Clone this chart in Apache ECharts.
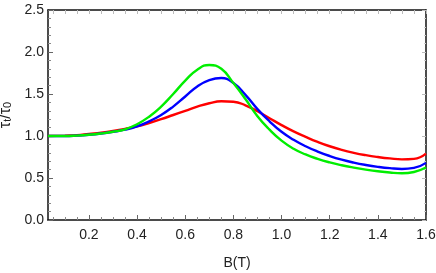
<!DOCTYPE html>
<html>
<head>
<meta charset="utf-8">
<script src="https://cdn.jsdelivr.net/npm/echarts@6/dist/echarts.min.js"></script>
<style>html,body{margin:0;padding:0;background:#fff}#c{width:436px;height:273px}</style>
</head>
<body>
<div id="c"></div>
<script>
const B = [0.03,0.1,0.15,0.2,0.25,0.3,0.35,0.4,0.45,0.5,0.55,0.6,0.65,0.7,0.75,0.8,0.85,0.9,0.95,1.0,1.05,1.1,1.15,1.2,1.25,1.3,1.35,1.4,1.45,1.5,1.55,1.6];
const redVals = [1.00,1.005,1.01,1.025,1.04,1.06,1.085,1.115,1.155,1.20,1.25,1.30,1.35,1.39,1.413,1.408,1.365,1.295,1.212,1.13,1.055,0.99,0.93,0.878,0.835,0.80,0.772,0.75,0.733,0.722,0.728,0.79];
const blueVals = [1.00,1.00,1.005,1.015,1.03,1.05,1.075,1.115,1.175,1.25,1.35,1.47,1.59,1.665,1.69,1.63,1.49,1.32,1.175,1.05,0.955,0.878,0.815,0.762,0.718,0.683,0.655,0.633,0.617,0.608,0.62,0.68];
const greenVals = [1.00,1.00,1.005,1.015,1.03,1.05,1.08,1.14,1.23,1.35,1.50,1.66,1.79,1.845,1.80,1.63,1.44,1.235,1.075,0.945,0.848,0.78,0.728,0.686,0.652,0.624,0.60,0.58,0.565,0.557,0.572,0.625];
const xMajor = [0.2,0.4,0.6,0.8,1.0,1.2,1.4,1.6];
const xMinor = [0.05,0.1,0.15,0.25,0.3,0.35,0.45,0.5,0.55,0.65,0.7,0.75,0.85,0.9,0.95,1.05,1.1,1.15,1.25,1.3,1.35,1.45,1.5,1.55];
const yTicks = [0,0.5,1.0,1.5,2.0,2.5];

const zip = (xs, ys) => xs.map((x,i)=>[x, ys[i]]);
const X0 = 0.03, X1 = 1.6;
const txt = '#222';
const chart = echarts.init(document.getElementById('c'), null, {renderer:'canvas'});
const baseX = {type:'value', min:X0, max:X1, splitLine:{show:false}};
chart.setOption({
  animation:false,
  grid:{left:48, right:10, top:10, bottom:53, containLabel:false, outerBoundsMode:'none'},
  xAxis:[
    Object.assign({}, baseX, {position:'bottom',
      name:'B(T)', nameLocation:'middle', nameGap:36,
      nameTextStyle:{fontFamily:'Liberation Sans', fontSize:14, color:txt},
      axisLine:{onZero:false, lineStyle:{color:'#111', width:1.5}},
      axisTick:{inside:true, length:5, customValues:xMajor, lineStyle:{color:'#666'}},
      axisLabel:{customValues:xMajor, margin:8, fontFamily:'Liberation Sans', fontSize:14, color:txt,
        formatter:v=>v.toFixed(1)}}),
    Object.assign({}, baseX, {position:'bottom',
      axisLine:{show:false},
      axisTick:{inside:true, length:3, customValues:xMinor, lineStyle:{color:'#888'}},
      axisLabel:{show:false}}),
    Object.assign({}, baseX, {position:'top',
      axisLine:{onZero:false, lineStyle:{color:'#111', width:1.5}},
      axisTick:{inside:true, length:4, customValues:xMajor.concat(xMinor), lineStyle:{color:'#bbb'}},
      axisLabel:{show:false}})
  ],
  yAxis:[
    {type:'value', min:0, max:2.5, interval:0.5, position:'left',
      name:'{a|τ}{s|t}{a|/τ}{s|0}', nameLocation:'middle', nameGap:30, nameRotate:90,
      nameTextStyle:{fontFamily:'Liberation Sans', color:txt, rich:{
        a:{fontFamily:'Liberation Sans', fontSize:16, color:txt, verticalAlign:'bottom', lineHeight:20},
        s:{fontFamily:'Liberation Sans', fontSize:11, color:txt, verticalAlign:'bottom', lineHeight:16}}},
      splitLine:{show:false},
      axisLine:{onZero:false, lineStyle:{color:'#111', width:1.5}},
      axisTick:{inside:true, length:5, lineStyle:{color:'#666'}},
      minorTick:{show:true, splitNumber:5, length:3, lineStyle:{color:'#888'}},
      minorSplitLine:{show:false},
      axisLabel:{margin:4, fontFamily:'Liberation Sans', fontSize:14, color:txt, formatter:v=>v.toFixed(1)}},
    {type:'value', min:0, max:2.5, interval:0.5, position:'right',
      splitLine:{show:false},
      axisLine:{onZero:false, lineStyle:{color:'#111', width:1.5}},
      axisTick:{inside:true, length:4, lineStyle:{color:'#bbb'}},
      minorTick:{show:true, splitNumber:5, length:2, lineStyle:{color:'#ccc'}},
      axisLabel:{show:false}}
  ],
  series:[
    {type:'line', data:zip(B, redVals), smooth:0.5, symbol:'none', lineStyle:{color:'#ff0000', width:2.4}, z:3},
    {type:'line', data:zip(B, blueVals), smooth:0.5, symbol:'none', lineStyle:{color:'#0000ff', width:2.4}, z:4},
    {type:'line', data:zip(B, greenVals), smooth:0.5, symbol:'none', lineStyle:{color:'#00ee00', width:2.4}, z:5}
  ]
});
</script>
</body>
</html>
